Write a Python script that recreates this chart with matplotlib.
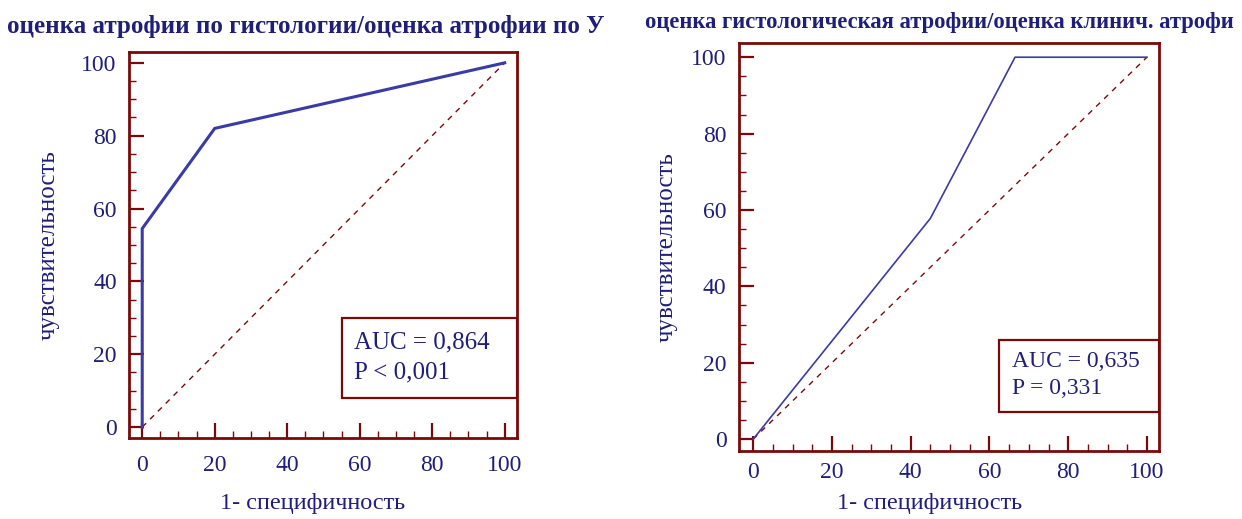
import matplotlib.pyplot as plt
import numpy as np
from matplotlib.ticker import MultipleLocator

# ROC curves: 1 - specificity (%) vs sensitivity (%)
hist_us_fpr = [0, 0, 20, 100]
hist_us_tpr = [0, 54.5, 82, 100]
hist_us_auc = "AUC = 0,864"
hist_us_p = "P < 0,001"
hist_us_title = "оценка атрофии по гистологии/оценка атрофии по У"

hist_clin_fpr = [0, 45, 66.5, 100]
hist_clin_tpr = [0, 57.8, 100, 100]
hist_clin_auc = "AUC = 0,635"
hist_clin_p = "P = 0,331"
hist_clin_title = "оценка гистологическая атрофии/оценка клинич. атрофи"

diag = [0, 100]
tick_values = [0, 20, 40, 60, 80, 100]

xlabel = "1- специфичность"
ylabel = "чувствительность"

TEXT = "#1f1f7a"
LINE = "#3a3aa8"
MAROON = "#7a0a0a"

plt.rcParams['font.family'] = ['Liberation Serif', 'DejaVu Serif']

fig = plt.figure(figsize=(12.42, 5.19), dpi=100)


def roc_panel(rect, fpr, tpr, lw, title, title_size, title_xy, auc, pval,
              box, box_size, xlim, ylim, xtick_pad, xlabel_xy, ylabel_pad):
    ax = fig.add_axes(rect)
    ax.plot(diag, diag, color=MAROON, lw=1.0, ls=(0, (4, 4)))
    ax.plot(fpr, tpr, color=LINE, lw=lw, solid_joinstyle='miter')
    ax.set_xlim(*xlim)
    ax.set_ylim(*ylim)
    ax.set_xticks(tick_values)
    ax.set_yticks(tick_values)
    ax.xaxis.set_minor_locator(MultipleLocator(5))
    ax.yaxis.set_minor_locator(MultipleLocator(5))
    ax.tick_params(which='major', direction='in', length=11, width=1.6,
                   color=MAROON, labelcolor=TEXT, labelsize=17)
    ax.tick_params(axis='x', which='major', pad=xtick_pad)
    ax.tick_params(axis='y', which='major', pad=9)
    ax.tick_params(which='minor', direction='in', length=5, width=1.0,
                   color=MAROON)
    for s in ax.spines.values():
        s.set_color(MAROON)
        s.set_linewidth(2)

    ax.set_xlabel(xlabel, color=TEXT, fontsize=17.5)
    ax.xaxis.set_label_coords(*xlabel_xy)
    ax.set_ylabel(ylabel, color=TEXT, fontsize=18, labelpad=ylabel_pad)

    # Area-under-curve annotation box
    bx, by, bw, bh = box
    ax.add_patch(plt.Rectangle((bx, by), bw, bh, transform=ax.transAxes,
                               fill=True, facecolor='white', edgecolor=MAROON,
                               lw=1.6, zorder=5))
    ax.text(bx + 0.03, by + bh * 0.70, auc, transform=ax.transAxes,
            color=TEXT, fontsize=box_size, va='center', zorder=6)
    ax.text(bx + 0.03, by + bh * 0.32, pval, transform=ax.transAxes,
            color=TEXT, fontsize=box_size, va='center', zorder=6)

    fig.text(title_xy[0], title_xy[1], title, color=TEXT, fontsize=title_size,
             fontweight='bold', ha='left', va='center')
    return ax


roc_panel([0.104, 0.156, 0.312, 0.744], hist_us_fpr, hist_us_tpr, 2.2,
          hist_us_title, 18, (0.006, 0.948), hist_us_auc, hist_us_p,
          (0.55, 0.104, 0.45, 0.206), 18, (-3.6, 103.3), (-3.0, 103.0),
          12, (0.474, -0.143), 15.5)

roc_panel([0.595, 0.131, 0.338, 0.786], hist_clin_fpr, hist_clin_tpr, 1.2,
          hist_clin_title, 16.3, (0.519, 0.957), hist_clin_auc, hist_clin_p,
          (0.62, 0.096, 0.38, 0.176), 17, (-3.6, 103.0), (-3.1, 103.7),
          8, (0.455, -0.104), 9.5)

fig.savefig("out.png", dpi=100)
